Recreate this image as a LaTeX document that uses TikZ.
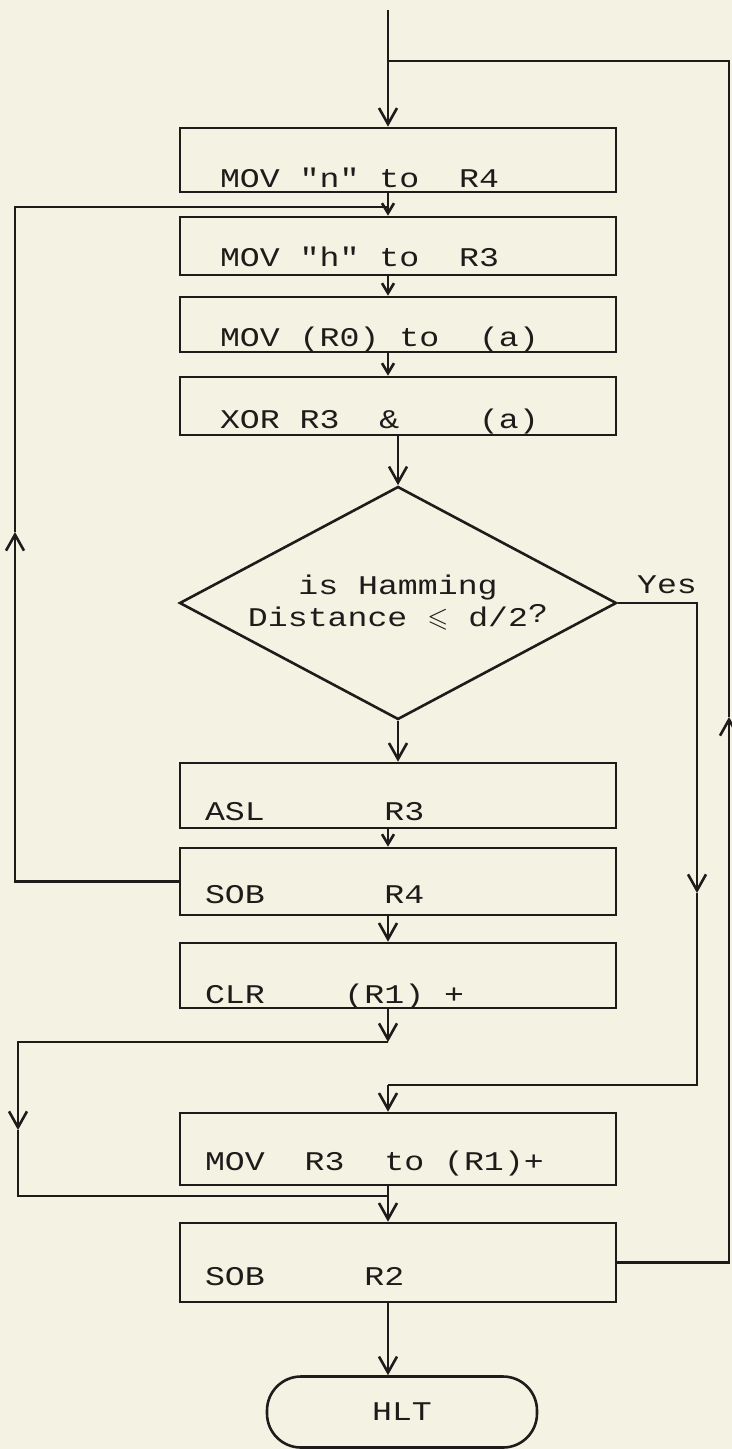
\documentclass[tikz,border=0pt]{standalone}
\usepackage{fontspec}
\usepackage{amssymb}
\newfontfamily\tw{Liberation Mono}[FakeStretch=1.23]
\newlength\pitchw
\newcommand\fixpitch{\settowidth\pitchw{M}}
\newcommand\gapw[1][1]{\hspace*{#1\pitchw}}
\usetikzlibrary{arrows.meta,positioning,shapes.geometric}
\definecolor{paper}{HTML}{F4F2E3}
\definecolor{ink}{HTML}{1E1C1A}

\begin{document}
\begin{tikzpicture}[x=0.5pt, y=-0.5pt, color=ink, line width=1.3pt,
  font={\tw\fontsize{13.5}{16}\selectfont\fixpitch},
  ar/.style={-{Straight Barb[length=8pt,width=9pt]}},
  sar/.style={-{Straight Barb[length=5pt,width=6pt]}},
  box/.style 2 args={draw, rectangle, minimum width=218pt, inner xsep=12.5pt, text width=193pt,
    inner ysep=0pt, align=left, text height=#1, text depth=#2},
  boxin/.style 2 args={box={#1}{#2}, inner xsep=20pt, text width=178pt}]
\fill[paper] (0,0) rectangle (732,1449);
\useasboundingbox (0,0) rectangle (732,1449);
% program blocks
\node[boxin={30pt}{2pt}] (movn) at (398,160) {MOV\gapw"n"\gapw to\gapw[2]R4};
\node[boxin={25pt}{4pt}] (movh) at (398,246) {MOV\gapw"h"\gapw to\gapw[2]R3};
\node[boxin={25pt}{2.5pt}] (movr) at (398,324.5) {MOV\gapw(R0)\gapw to\gapw[2](a)};
\node[boxin={25.5pt}{3.5pt}] (xor) at (398,406) {XOR\gapw R3\gapw[2]\&\gapw[4](a)};
\node[diamond, draw, aspect=1.87, minimum width=218.5pt, minimum height=116.5pt, inner sep=0pt,
  align=center] (dist) at (398,603) {is\gapw Hamming\\Distance\gapw$\leqslant$\gapw d/2\raisebox{2pt}{?}};
\node[anchor=base west, inner sep=0pt] (yes) at ([xshift=9pt,yshift=5pt]dist.east) {Yes};
\node[box={28.5pt}{4pt}] (asl) at (398,795.5) {ASL\gapw[6]R3};
\node[box={27.5pt}{6pt}] (sobf) at (398,881.5) {SOB\gapw[6]R4};
\node[box={30pt}{2.5pt}] (clr) at (398,975.5) {CLR\gapw[4](R1)\gapw+};
\node[box={28.5pt}{7.5pt}] (movt) at (398,1149) {MOV\gapw[2]R3\gapw[2]to\gapw(R1)+};
\node[box={31pt}{8.5pt}] (sobt) at (398,1262.5) {SOB\gapw[5]R2};
\node[draw, rounded corners=17pt, minimum width=135pt, minimum height=35.5pt] (hlt) at (402,1412) {HLT};
% corners of the loops
\coordinate (top) at (388,10);
\coordinate (rup) at (729,717);
\coordinate (rtop) at (729,61);
\coordinate (lup) at (15,532);
\coordinate (ltop) at (15,207);
\coordinate (ydown) at (697,893);
\coordinate (ybot) at (697,1085);
\coordinate (bl) at (18,1042);
\coordinate (bdown) at (18,1130);
\coordinate (bb) at (18,1196);
% main flow
\draw[ar] (top) -- (movn.north -| top);
\draw[sar] (movn.south -| top) -- (movh.north -| top);
\draw[sar] (movh.south -| top) -- (movr.north -| top);
\draw[sar] (movr.south -| top) -- (xor.north -| top);
\draw[ar] (xor.south -| dist.north) -- (dist.north);
\draw[ar] (dist.south) -- (asl.north -| dist.south);
\draw[sar] (asl.south -| top) -- (sobf.north -| top);
\draw[ar] (sobf.south -| top) -- (clr.north -| top);
\draw[ar] (clr.south -| top) -- (bl -| top);
\draw[ar] (movt.south -| top) -- (sobt.north -| top);
\draw[ar] (sobt.south -| top) -- (hlt.north -| top);
% loops
\draw[ar] (sobt.east) -| (rup);
\draw (rup) -- (rtop) -- (rtop -| top);
\draw[ar] (sobf.west) -| (lup);
\draw (lup) -- (ltop) -- (ltop -| top);
\draw[ar] (dist.east) -| (ydown);
\draw (ydown) -- (ybot) -- (ybot -| top);
\draw[ar] (ybot -| top) -- (movt.north -| top);
\draw[ar] (bl -| top) -- (bl) -- (bdown);
\draw (bdown) -- (bb) -- (bb -| top);
\end{tikzpicture}
\end{document}
